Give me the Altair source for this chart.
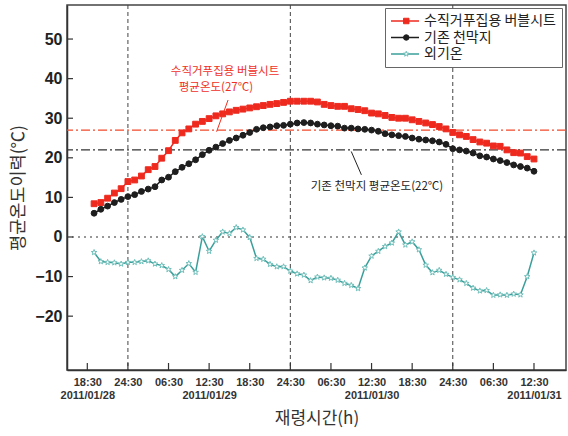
import altair as alt
import pandas as pd

# ---------------- data ----------------
series_names = ["수직거푸집용 버블시트", "기존 천막지", "외기온"]
hours = list(range(1, 67))  # hours after 2011/01/28 18:30

bubble_sheet = [8.4, 8.7, 9.8, 11.1, 12.2, 14.0, 14.4, 15.4, 17.0, 17.8,
                19.9, 21.8, 24.4, 26.3, 27.3, 28.5, 29.2, 29.9, 30.6, 31.1,
                31.6, 32.0, 32.3, 32.6, 32.9, 33.2, 33.5, 33.7, 34.0, 34.3,
                34.3, 34.3, 34.3, 34.1, 33.5, 33.2, 33.0, 33.0, 32.4, 32.2,
                31.9, 31.3, 31.1, 30.7, 30.2, 30.0, 30.0, 29.6, 29.2, 28.8,
                28.4, 27.9, 27.3, 26.4, 25.8, 25.4, 24.6, 24.0, 23.7, 23.0,
                22.9, 22.0, 21.3, 21.2, 20.3, 19.7]
tent_sheet = [6.0, 7.0, 7.8, 8.7, 9.5, 10.2, 10.7, 11.5, 12.1, 12.7,
              14.4, 15.1, 16.5, 17.6, 18.5, 19.5, 20.8, 21.9, 22.7, 23.6,
              24.4, 25.0, 25.7, 26.4, 27.2, 27.6, 27.8, 28.1, 28.2, 28.5,
              28.8, 28.9, 28.8, 28.5, 28.3, 28.1, 28.0, 27.5, 27.5, 27.3,
              27.2, 27.0, 26.7, 26.1, 25.8, 25.6, 25.4, 25.0, 24.7, 24.5,
              24.3, 24.0, 23.4, 22.3, 22.0, 21.7, 21.2, 20.5, 20.2, 19.7,
              19.3, 18.8, 18.2, 17.8, 17.4, 16.6]
outdoor = [-3.9, -6.2, -6.4, -6.5, -6.8, -6.4, -6.4, -6.2, -6.0, -6.8,
           -7.2, -8.2, -10.0, -8.4, -6.7, -8.9, 0.1, -3.6, -0.8, 1.3,
           0.9, 2.4, 1.8, -0.1, -5.4, -5.6, -6.9, -7.5, -7.5, -8.6,
           -9.3, -9.6, -11.0, -10.1, -10.3, -10.4, -10.9, -11.7, -12.2, -13.0,
           -7.8, -4.8, -3.6, -2.4, -1.5, 1.3, -2.0, -1.2, -3.2, -7.1,
           -9.0, -8.4, -9.4, -10.2, -10.8, -11.7, -12.9, -13.6, -13.5, -14.7,
           -14.6, -14.7, -14.4, -14.6, -10.0, -4.0]

tick_hours = [0, 6, 12, 18, 24, 30, 36, 42, 48, 54, 60, 66]
time_labels = ["18:30", "24:30", "06:30", "12:30", "18:30", "24:30",
               "06:30", "12:30", "18:30", "24:30", "06:30", "12:30"]
date_labels = ["2011/01/28", "", "", "2011/01/29", "", "", "",
               "2011/01/30", "", "", "", "2011/01/31"]
y_ticks = [-20, -10, 0, 10, 20, 30, 40, 50]
midnight_hours = [6, 30, 54]

avg_bubble = 27
avg_tent = 22

ann_red_text = ["수직거푸집용 버블시트", "평균온도(27℃)"]
ann_red_hour = [20.35, 19.0]
ann_red_temp = [41.7, 37.7]
ann_black_text = ["기존 천막지 평균온도(22℃)"]
ann_black_hour = [42.8]
ann_black_temp = [12.6]

# ---------------- styling ----------------
W, H = 499, 365
KR = "Noto Sans CJK KR"
NUM = "Liberation Sans"
line_colors = ["#ee2a1f", "#1e1e1e", "#3a9f9b"]
fill_colors = ["#ee2a1f", "#1e1e1e", "#ffffff"]
stroke_colors = ["#ee2a1f", "#1e1e1e", "#6fbfba"]
star = ("M0,-1L0.24,-0.33L0.95,-0.31L0.39,0.13L0.59,0.81L0,0.41"
        "L-0.59,0.81L-0.39,0.13L-0.95,-0.31L-0.24,-0.33Z")
shapes = ["square", "circle", star]

df = pd.DataFrame({
    "hour": hours * 3,
    "temp": bubble_sheet + tent_sheet + outdoor,
    "series": [series_names[0]] * 66 + [series_names[1]] * 66 + [series_names[2]] * 66,
})
df["series_pt"] = df["series"]

x_scale = alt.Scale(domain=[-3.0, 70.73], nice=False, zero=False)
y_scale = alt.Scale(domain=[-33.6, 58.6], nice=False, zero=False)

label_pairs = ",".join(f"['{t}','{d}']" for t, d in zip(time_labels, date_labels))
x_label_expr = f"[{label_pairs}][round(datum.value / 6)]"

x_axis = alt.Axis(values=tick_hours, labelExpr=x_label_expr, title="재령시간(h)",
                  labelFont=NUM, labelFontWeight="bold", labelFontSize=11,
                  labelColor="#333", labelPadding=6, labelLineHeight=13,
                  labelOverlap=False, labelFlush=False,
                  ticks=False, grid=False, domainColor="#333", domainWidth=1.5,
                  titleFont=KR, titleFontSize=17, titleFontWeight="normal",
                  titleColor="#333", titlePadding=10)
y_axis = alt.Axis(values=y_ticks, title="평균온도이력(℃)",
                  labelFont=NUM, labelFontWeight="bold", labelFontSize=16,
                  labelColor="#222", labelPadding=5, labelOverlap=False,
                  ticks=False, grid=False, domainColor="#333", domainWidth=1.5,
                  titleFont=KR, titleFontSize=17.5, titleFontWeight="normal",
                  titleColor="#333", titlePadding=7)


def X(field):
    return alt.X(field, scale=x_scale, axis=x_axis)


def Y(field):
    return alt.Y(field, scale=y_scale, axis=y_axis)


LEG_X, LEG_Y = 318, 3
line_legend = alt.Legend(title=None, orient="none", legendX=LEG_X, legendY=LEG_Y,
                         symbolType="M-3.5,0H3.5", symbolSize=64, symbolStrokeWidth=1.5,
                         symbolOffset=7,
                         labelFont=KR, labelFontSize=14, labelColor="#222",
                         labelOffset=12, padding=6, rowPadding=2.5, zindex=1,
                         strokeColor="#666", fillColor="white")
pt_legend = alt.Legend(title=None, orient="none", legendX=LEG_X + 1.26, legendY=LEG_Y,
                       symbolSize=30, symbolStrokeWidth=1, symbolOffset=7,
                       labelFont=KR, labelFontSize=14, labelOpacity=0,
                       labelOffset=12, padding=6, rowPadding=2.5, zindex=2)

base = alt.Chart(df)

vlines = alt.Chart(pd.DataFrame({"hour": midnight_hours})).mark_rule(
    color="#444", strokeWidth=1, strokeDash=[4, 3]
).encode(x=X("hour:Q"))

zero_line = alt.Chart(pd.DataFrame({"temp": [0]})).mark_rule(
    color="#333", strokeWidth=1.2, strokeDash=[2, 4]
).encode(y=Y("temp:Q"))

red_avg = alt.Chart(pd.DataFrame({"temp": [avg_bubble]})).mark_rule(
    color="#f2492a", strokeWidth=1.3, strokeDash=[9, 3, 2, 3]
).encode(y=Y("temp:Q"))

black_avg = alt.Chart(pd.DataFrame({"temp": [avg_tent]})).mark_rule(
    color="#333", strokeWidth=1.3, strokeDash=[9, 3, 2, 3]
).encode(y=Y("temp:Q"))

lines = base.mark_line(strokeWidth=1.5).encode(
    x=X("hour:Q"),
    y=Y("temp:Q"),
    color=alt.Color("series:N", scale=alt.Scale(domain=series_names, range=line_colors),
                    legend=line_legend),
)

points = base.mark_point(filled=True, size=34, strokeWidth=1, opacity=1).encode(
    x=X("hour:Q"),
    y=Y("temp:Q"),
    fill=alt.Fill("series_pt:N", scale=alt.Scale(domain=series_names, range=fill_colors),
                  legend=pt_legend),
    stroke=alt.Stroke("series_pt:N", scale=alt.Scale(domain=series_names, range=stroke_colors),
                      legend=pt_legend),
    shape=alt.Shape("series_pt:N", scale=alt.Scale(domain=series_names, range=shapes),
                    legend=pt_legend),
)

y_ticks_in = alt.Chart(pd.DataFrame({"temp": y_ticks})).mark_rule(
    color="#333", strokeWidth=1.2
).encode(y=Y("temp:Q"), x=alt.value(0), x2=alt.value(6))

x_ticks_in = alt.Chart(pd.DataFrame({"hour": tick_hours})).mark_rule(
    color="#333", strokeWidth=1.2
).encode(x=X("hour:Q"), y=alt.value(H), y2=alt.value(H - 7))

red_text = alt.Chart(pd.DataFrame({"hour": ann_red_hour, "temp": ann_red_temp,
                                   "text": ann_red_text})).mark_text(
    font=KR, fontSize=11.5, color="#f0301f"
).encode(x=X("hour:Q"), y=Y("temp:Q"), text="text:N")

black_text = alt.Chart(pd.DataFrame({"hour": ann_black_hour, "temp": ann_black_temp,
                                     "text": ann_black_text})).mark_text(
    font=KR, fontSize=11.5, color="#222"
).encode(x=X("hour:Q"), y=Y("temp:Q"), text="text:N")

pointers = alt.Chart(pd.DataFrame({
    "hour": [20.8, 39.0], "hour_end": [19.1, 40.5],
    "temp": [34.6, 21.6], "temp_end": [26.6, 15.7],
    "who": ["red", "black"],
})).mark_rule(strokeWidth=1).encode(
    x=X("hour:Q"), x2="hour_end:Q",
    y=Y("temp:Q"), y2="temp_end:Q",
    color=alt.Color("who:N", scale=alt.Scale(domain=["red", "black"], range=["#f0301f", "#222"]),
                    legend=None),
)

chart = alt.layer(
    vlines, zero_line, red_avg, black_avg, y_ticks_in, x_ticks_in,
    lines, points, pointers, red_text, black_text,
).resolve_scale(color="independent").properties(
    width=W, height=H,
    autosize=alt.AutoSizeParams(type="none"),
    padding={"left": 67, "top": 5, "right": 2, "bottom": 66},
    background="white",
).configure_view(stroke="#444", strokeWidth=1.5)

chart.save("out.html", embed_options={"renderer": "svg", "actions": False})
